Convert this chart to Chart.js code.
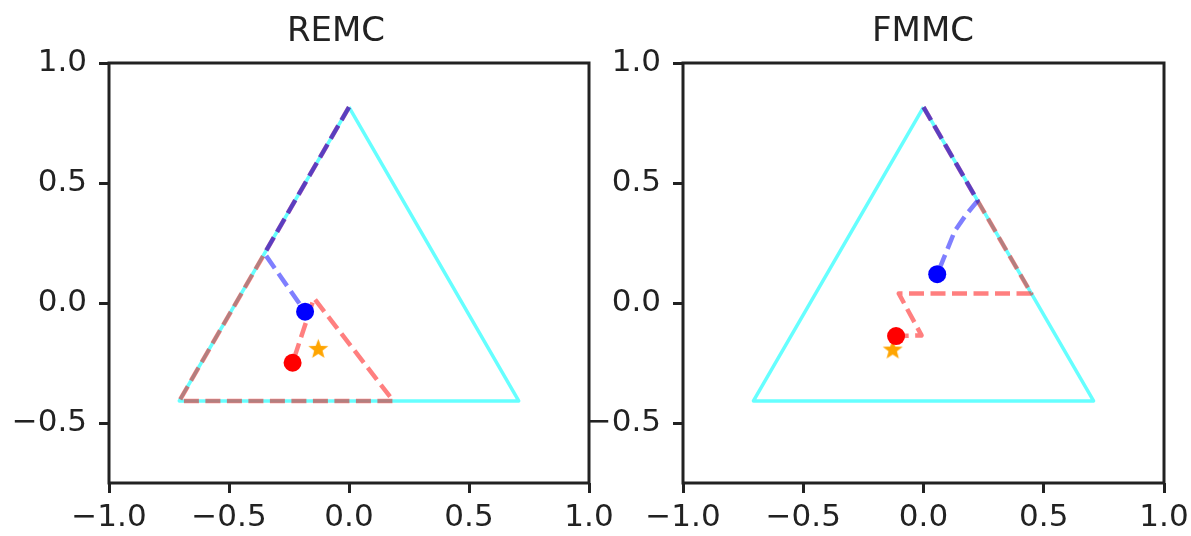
<!DOCTYPE html>
<html>
<head>
<meta charset="utf-8">
<script src="https://cdn.jsdelivr.net/npm/chart.js@4.4.1/dist/chart.umd.min.js"></script>
<style>
  html, body { margin: 0; padding: 0; background: #ffffff; }
  #wrap { position: relative; width: 1191px; height: 536px; overflow: hidden; background: #ffffff; }
  canvas { position: absolute; top: 0; }
</style>
</head>
<body>
<div id="wrap">
  <canvas id="remc" width="620" height="536" style="left:0px"></canvas>
  <canvas id="fmmc" width="621" height="536" style="left:570px"></canvas>
</div>
<script>
// Simplex triangle corners (projected probability simplex)
const triangle = [
  { x: 0.0, y: 0.8165 },
  { x: 0.7071, y: -0.4082 },
  { x: -0.7071, y: -0.4082 },
  { x: 0.0, y: 0.8165 }
];

// Axis ticks and their labels
const xTicks = [-1.0, -0.5, 0.0, 0.5, 1.0];
const xTickLabels = ['\u22121.0', '\u22120.5', '0.0', '0.5', '1.0'];
const yTicks = [-0.5, 0.0, 0.5, 1.0];
const yTickLabels = ['\u22120.5', '0.0', '0.5', '1.0'];

// REMC panel
const remcRedPath = [
  { x: 0.0, y: 0.8165 }, { x: -0.352, y: 0.206 }, { x: -0.7071, y: -0.4082 },
  { x: 0.185, y: -0.4082 }, { x: -0.146, y: 0.02 }, { x: -0.235, y: -0.249 }
];
const remcBluePath = [
  { x: 0.0, y: 0.8165 }, { x: -0.352, y: 0.206 }, { x: -0.183, y: -0.036 }
];
const remcRedEnd = [{ x: -0.235, y: -0.249 }];
const remcBlueEnd = [{ x: -0.183, y: -0.036 }];
const remcStar = [{ x: -0.128, y: -0.193 }];

// FMMC panel
const fmmcRedPath = [
  { x: 0.0, y: 0.8165 }, { x: 0.225, y: 0.426 }, { x: 0.448, y: 0.04 },
  { x: -0.103, y: 0.04 }, { x: -0.008, y: -0.135 }, { x: -0.114, y: -0.138 }
];
const fmmcBluePath = [
  { x: 0.0, y: 0.8165 }, { x: 0.225, y: 0.426 }, { x: 0.175, y: 0.365 },
  { x: 0.13, y: 0.3 }, { x: 0.1, y: 0.225 }, { x: 0.057, y: 0.12 }
];
const fmmcRedEnd = [{ x: -0.114, y: -0.138 }];
const fmmcBlueEnd = [{ x: 0.057, y: 0.12 }];
const fmmcStar = [{ x: -0.128, y: -0.196 }];

const FONT = "'DejaVu Sans', 'Liberation Sans', sans-serif";
const INK = '#222222';

// Filled five-point star used as a point marker
function makeStar(r, color) {
  const c = document.createElement('canvas');
  const s = Math.ceil(r * 2 + 2);
  c.width = s; c.height = s;
  const g = c.getContext('2d');
  const cx = s / 2, cy = s / 2, inner = r * 0.42;
  g.beginPath();
  for (let i = 0; i < 10; i++) {
    const rad = i % 2 === 0 ? r : inner;
    const a = -Math.PI / 2 + i * Math.PI / 5;
    const px = cx + rad * Math.cos(a), py = cy + rad * Math.sin(a);
    if (i === 0) g.moveTo(px, py); else g.lineTo(px, py);
  }
  g.closePath();
  g.fillStyle = color;
  g.fill();
  return c;
}
const starMarker = makeStar(10.5, '#ffa500');

// Full box frame around the plot area plus the panel title
const framePlugin = {
  id: 'panelFrame',
  afterDatasetsDraw(chart, args, opts) {
    const { ctx, chartArea: a } = chart;
    ctx.save();
    ctx.strokeStyle = INK;
    ctx.lineWidth = 3;
    ctx.strokeRect(a.left, a.top, a.right - a.left, a.bottom - a.top);
    ctx.fillStyle = INK;
    ctx.font = '34px ' + FONT;
    ctx.textAlign = 'center';
    ctx.textBaseline = 'alphabetic';
    ctx.fillText(opts.text, opts.cx, 41);
    ctx.restore();
  }
};

function lineSet(data, color, dashed, width, order) {
  return {
    data, showLine: true, borderColor: color, borderWidth: width,
    borderDash: dashed ? [15, 6.5] : [], borderJoinStyle: 'round',
    pointRadius: 0, pointHoverRadius: 0, tension: 0, fill: false, order
  };
}
function dotSet(data, color, order) {
  return {
    data, showLine: false, pointRadius: 9, pointHoverRadius: 9,
    backgroundColor: color, borderColor: color, borderWidth: 0, order
  };
}

function makePanel(id, title, titleX, yAxisWidth, padRight, redPath, bluePath, redEnd, blueEnd, star) {
  return new Chart(document.getElementById(id), {
    type: 'scatter',
    data: {
      datasets: [
        lineSet(triangle, 'rgba(0,255,255,0.6)', false, 3.5, 6),
        lineSet(redPath, 'rgba(255,0,0,0.5)', true, 4.5, 5),
        lineSet(bluePath, 'rgba(0,0,255,0.5)', true, 4.5, 4),
        { data: star, showLine: false, pointStyle: starMarker, pointRadius: 10, order: 3 },
        dotSet(redEnd, '#ff0000', 2),
        dotSet(blueEnd, '#0000ff', 1)
      ]
    },
    options: {
      responsive: false,
      animation: false,
      devicePixelRatio: 1,
      events: [],
      layout: { padding: { left: 0, right: padRight, top: 63, bottom: 0 } },
      plugins: {
        legend: { display: false },
        tooltip: { enabled: false },
        panelFrame: { text: title, cx: titleX }
      },
      scales: {
        x: {
          type: 'linear', min: -1, max: 1,
          afterBuildTicks: s => { s.ticks = xTicks.map(v => ({ value: v })); },
          afterFit: s => { s.height = 53; s.paddingLeft = 0; s.paddingRight = 0; },
          ticks: {
            callback: (v, i) => xTickLabels[i],
            color: INK, font: { family: FONT, size: 31 }, padding: 6,
            maxRotation: 0, autoSkip: false
          },
          grid: { drawOnChartArea: false, drawTicks: true, tickLength: 10, color: INK, lineWidth: 3 },
          border: { display: false }
        },
        y: {
          type: 'linear', min: -0.75, max: 1.0,
          afterBuildTicks: s => { s.ticks = yTicks.map(v => ({ value: v })); },
          afterFit: s => { s.width = yAxisWidth; s.paddingTop = 0; s.paddingBottom = 0; },
          ticks: {
            callback: (v, i) => yTickLabels[i],
            color: INK, font: { family: FONT, size: 31 }, padding: 12,
            autoSkip: false
          },
          grid: { drawOnChartArea: false, drawTicks: true, tickLength: 10, color: INK, lineWidth: 3 },
          border: { display: false }
        }
      }
    },
    plugins: [framePlugin]
  });
}

makePanel('remc', 'REMC', 336, 109, 31, remcRedPath, remcBluePath, remcRedEnd, remcBlueEnd, remcStar);
makePanel('fmmc', 'FMMC', 353, 113, 27, fmmcRedPath, fmmcBluePath, fmmcRedEnd, fmmcBlueEnd, fmmcStar);
</script>
</body>
</html>
